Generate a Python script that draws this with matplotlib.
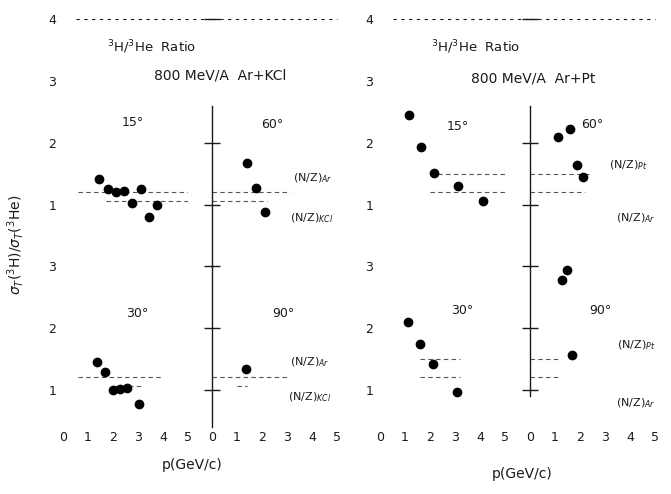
import matplotlib.pyplot as plt

W, H = 671, 494

# ---- Ar + KCl (left block) ----
kcl_15_p = [1.44, 1.80, 2.12, 2.44, 2.76, 3.12, 3.44, 3.76]
kcl_15_r = [1.42, 1.26, 1.21, 1.23, 1.03, 1.26, 0.81, 1.00]
kcl_60_p = [1.40, 1.76, 2.12]
kcl_60_r = [1.68, 1.27, 0.89]
kcl_30_p = [1.36, 1.68, 2.00, 2.28, 2.56, 3.04]
kcl_30_r = [1.45, 1.29, 1.00, 1.02, 1.03, 0.77]
kcl_90_p = [1.36]
kcl_90_r = [1.34]
kcl_nz = [1.21, 1.07]  # (N/Z)_Ar, (N/Z)_KCl

# ---- Ar + Pt (right block) ----
pt_15_p = [1.16, 1.64, 2.16, 3.12, 4.12]
pt_15_r = [2.45, 1.94, 1.52, 1.31, 1.06]
pt_60_p = [1.12, 1.60, 1.88, 2.12]
pt_60_r = [2.10, 2.23, 1.65, 1.45]
pt_30_p = [1.12, 1.60, 2.12, 3.08]
pt_30_r = [2.10, 1.74, 1.42, 0.97]
pt_90_p = [1.28, 1.48, 1.68]
pt_90_r = [2.77, 2.94, 1.56]
pt_nz = [1.50, 1.21]  # (N/Z)_Pt, (N/Z)_Ar

xticks = [0, 1, 2, 3, 4, 5]
ink = '#1a1a1a'

plt.rcParams['font.family'] = 'DejaVu Sans'
fig = plt.figure(figsize=(W / 100, H / 100), dpi=100)


def add_panel(x0, y_top, y_bot, ylim, xlim=(0, 5), px_per_x=25):
    # place an axes by pixel position
    x1 = x0 + px_per_x * (xlim[1] - xlim[0])
    ax = fig.add_axes([x0 / W, 1 - y_bot / H, (x1 - x0) / W, (y_bot - y_top) / H])
    ax.set_xlim(*xlim)
    ax.set_ylim(*ylim)
    ax.patch.set_alpha(0)
    for s in ax.spines.values():
        s.set_visible(False)
    ax.tick_params(length=0, colors=ink, labelsize=9)
    ax.set_xticks([])
    ax.set_yticks([])
    return ax


def ftext(x, y, s, **kw):
    kw.setdefault('ha', 'center')
    kw.setdefault('va', 'center')
    kw.setdefault('color', ink)
    fig.text(x / W, 1 - y / H, s, **kw)


# y pixel mapping: top row r=0 at 267, bottom row r=0 at 452, 62 px per unit
top_lim = (0, 4.15)
top_px = (267 - 62 * 4.15, 267)
bot_lim = (0.4, 3.0)
bot_px = (452 - 62 * 3.0, 452 - 62 * 0.4)


def build_block(xl, xr, d15, d60, d30, d90, nz, spans, bot_spine):
    a15 = add_panel(xl, top_px[0], top_px[1], top_lim)
    a60 = add_panel(xr, top_px[0], top_px[1], top_lim)
    a30 = add_panel(xl, bot_px[0], bot_px[1], bot_lim)
    a90 = add_panel(xr, bot_px[0], bot_px[1], bot_lim)

    # left tick labels
    a15.set_yticks([1, 2, 3, 4])
    a30.set_yticks([1, 2, 3])
    for a in (a15, a30):
        a.tick_params(axis='y', pad=5)

    # x tick labels at the bottom
    for a in (a30, a90):
        a.set_xticks(xticks)
        a.tick_params(axis='x', pad=3)

    # central vertical axis with crosses
    for a, ticks, bnd in ((a60, [1, 2, 4], (0, 2.6)), (a90, [1, 2, 3], bot_spine)):
        a.spines['left'].set_visible(True)
        a.spines['left'].set_bounds(*bnd)
        a.spines['left'].set_color(ink)
        a.spines['left'].set_linewidth(1.0)
        a.set_yticks(ticks)
        a.set_yticklabels([])
        a.tick_params(axis='y', direction='inout', length=12, width=1.0)

    # dashed line at ratio 4 along the top, running through the centre axis
    a15.plot([0.5, 6.0], [4, 4], ls=(0, (3, 4)), color=ink, lw=0.8, clip_on=False)
    a60.plot([0, 5], [4, 4], ls=(0, (3, 4)), color=ink, lw=0.8, clip_on=False)

    # (N/Z) reference lines
    for a, sp in zip((a15, a60, a30, a90), spans):
        for v, (lo, hi) in zip(nz, sp):
            a.plot([lo, hi], [v, v], ls=(0, (4, 3)), color='#555555', lw=0.8)

    for a, (p, r) in zip((a15, a60, a30, a90), (d15, d60, d30, d90)):
        a.plot(p, r, 'o', color='k', ms=6, clip_on=False)


build_block(63, 212,
            (kcl_15_p, kcl_15_r), (kcl_60_p, kcl_60_r),
            (kcl_30_p, kcl_30_r), (kcl_90_p, kcl_90_r),
            kcl_nz,
            [[(0.6, 5), (1.7, 5)], [(0, 3.1), (0, 2.2)],
             [(0.6, 4.0), (2.0, 3.2)], [(0, 3.0), (1.0, 1.4)]],
            (0.4, 3.0))

build_block(380, 530,
            (pt_15_p, pt_15_r), (pt_60_p, pt_60_r),
            (pt_30_p, pt_30_r), (pt_90_p, pt_90_r),
            pt_nz,
            [[(2.0, 5), (2.0, 5)], [(0, 2.4), (0, 2.2)],
             [(1.6, 3.2), (1.6, 3.2)], [(0, 1.2), (0, 1.2)]],
            (0.9, 3.0))

# titles
ftext(152, 47, r'$^3$H/$^3$He  Ratio', fontsize=9.5)
ftext(220, 75, '800 MeV/A  Ar+KCl', fontsize=10)
ftext(476, 47, r'$^3$H/$^3$He  Ratio', fontsize=9.5)
ftext(533, 78, '800 MeV/A  Ar+Pt', fontsize=10)

# angle labels
for x, y, s in [(133, 123, '15°'), (272, 125, '60°'), (137, 313, '30°'), (283, 313, '90°'),
                (458, 127, '15°'), (592, 125, '60°'), (462, 310, '30°'), (600, 310, '90°')]:
    ftext(x, y, s, fontsize=9)

# (N/Z) labels
for x, y, s in [(313, 178, r'(N/Z)$_{Ar}$'), (312, 218, r'(N/Z)$_{KCl}$'),
                (310, 362, r'(N/Z)$_{Ar}$'), (310, 397, r'(N/Z)$_{KCl}$'),
                (628, 165, r'(N/Z)$_{Pt}$'), (636, 218, r'(N/Z)$_{Ar}$'),
                (636, 345, r'(N/Z)$_{Pt}$'), (636, 403, r'(N/Z)$_{Ar}$')]:
    ftext(x, y, s, fontsize=8)

# axis titles
ftext(16, 245, r'$\sigma_T$($^3$H)/$\sigma_T$($^3$He)', fontsize=10, rotation=90)
ftext(192, 465, 'p(GeV/c)', fontsize=10)
ftext(522, 474, 'p(GeV/c)', fontsize=10)

fig.savefig('out.png', dpi=100)
